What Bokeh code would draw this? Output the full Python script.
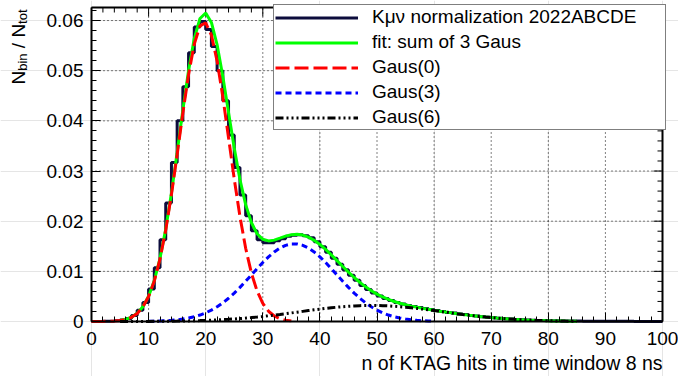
import numpy as np
from bokeh.plotting import figure
from bokeh.models import (Range1d, LinearAxis, SingleIntervalTicker, Label, Legend,
                          LegendItem)
from bokeh.embed import file_html
from bokeh.resources import INLINE

FONT = "Liberation Sans"

# ---------------- data ----------------
# histogram: fraction of events per bin, bins [n, n+1) for n = 0..99
hist_values = [0, 0.00001, 0.00003, 0.00006, 0.00014, 0.00031, 0.00062, 0.00121, 0.00224, 0.0038,
               0.0065, 0.0107, 0.0163, 0.0236, 0.0317, 0.0400, 0.0468, 0.0536, 0.0587, 0.0598,
               0.0582, 0.0548, 0.0500, 0.0440, 0.0372, 0.0307, 0.0252, 0.0211, 0.0181, 0.0163,
               0.0157, 0.0157, 0.0161, 0.0165, 0.0170, 0.0172, 0.0173, 0.0171, 0.0167, 0.0159,
               0.0149, 0.0138, 0.0126, 0.0114, 0.0103, 0.0092, 0.0082, 0.0072, 0.0064, 0.0057,
               0.0051, 0.0046, 0.0042, 0.0038, 0.0035, 0.0032, 0.0030, 0.0028, 0.0026, 0.0024,
               0.0022, 0.0020, 0.0018, 0.0017, 0.0015, 0.0014, 0.0012, 0.0011, 0.00097, 0.00086,
               0.00075, 0.00066, 0.00057, 0.00049, 0.00042, 0.00036, 0.00031, 0.00026, 0.00022, 0.00018,
               0.00015, 0.00013, 0.00011, 0.0001, 0.00009, 0.00008, 0.00007, 0.00006, 0.00005, 0.00005,
               0.00004, 0.00004, 0.00003, 0.00003, 0.00003, 0.00002, 0.00002, 0.00002, 0.00001, 0.00001]
hist_lo, hist_hi = 0, 100

# fit curve (sum of 3 Gaussians), sampled at x = 5..85
fit_x_start, fit_x_stop = 5, 85
fit_values = [0.000208, 0.000432, 0.000861, 0.001635, 0.002943, 0.005033, 0.008174, 0.012605, 0.018435, 0.025592,
              0.033714, 0.04216, 0.050043, 0.056406, 0.0604, 0.061502, 0.059623, 0.055155, 0.048865, 0.041692,
              0.034594, 0.028308, 0.023297, 0.019727, 0.017499, 0.016386, 0.016064, 0.016224, 0.016609, 0.017012,
              0.017297, 0.017381, 0.017226, 0.016822, 0.016183, 0.015353, 0.014367, 0.013274, 0.012127, 0.010968,
              0.00984, 0.008773, 0.007792, 0.006912, 0.006136, 0.005462, 0.004887, 0.004399, 0.003986, 0.003635,
              0.003333, 0.00307, 0.002835, 0.002621, 0.002424, 0.002238, 0.00206, 0.001888, 0.001725, 0.001567,
              0.001417, 0.001272, 0.001135, 0.001008, 0.00089, 0.000781, 0.00068, 0.000589, 0.000507, 0.000433,
              0.000368, 0.00031, 0.00026, 0.000217, 0.00018, 0.000148, 0.000121, 0.000098, 0.000079, 0.000064,
              0.000051]

# Gaus(0), sampled at x = 0..35
g0_x_start, g0_x_stop = 0, 35
g0_values = [0.0000021, 0.0000058, 0.000015, 0.000038, 0.000089, 0.000198, 0.000418, 0.000841, 0.001604, 0.002899,
             0.004967, 0.008078, 0.012465, 0.018232, 0.025301, 0.033301, 0.041581, 0.049241, 0.055312, 0.05893,
             0.059557, 0.057091, 0.051909, 0.044775, 0.036626, 0.028423, 0.020919, 0.014603, 0.009671, 0.006071,
             0.003618, 0.002045, 0.001096, 0.000558, 0.000269, 0.000123]

# Gaus(3), sampled at x = 10..60
g3_x_start, g3_x_stop = 10, 60
g3_values = [0.0000409, 0.0000646, 0.0001001, 0.0001524, 0.0002277, 0.0003342, 0.0004814, 0.000681, 0.000946, 0.00129,
             0.001728, 0.002272, 0.002936, 0.003722, 0.004633, 0.005664, 0.0068, 0.008014, 0.009275, 0.010538,
             0.01176, 0.012884, 0.013859, 0.01464, 0.015185, 0.015465, 0.015465, 0.015185, 0.01464, 0.013859,
             0.012884, 0.01176, 0.010538, 0.009275, 0.008014, 0.0068, 0.005664, 0.004633, 0.003722, 0.002936,
             0.002272, 0.001728, 0.00129, 0.000946, 0.000681, 0.000481, 0.000334, 0.000228, 0.000152, 0.0001,
             0.000065]

# Gaus(6), sampled at x = 5..85
g6_x_start, g6_x_stop = 5, 85
g6_values = [0.0000065, 0.0000086, 0.0000113, 0.0000148, 0.0000191, 0.0000246, 0.0000315, 0.00004, 0.0000506, 0.0000635,
             0.0000792, 0.0000981, 0.0001208, 0.0001478, 0.0001796, 0.000217, 0.0002603, 0.0003104, 0.000368, 0.000433,
             0.0005066, 0.0005888, 0.00068, 0.0007805, 0.0008896, 0.001008, 0.001135, 0.001269, 0.001411, 0.001558,
             0.001709, 0.001863, 0.002019, 0.002173, 0.002324, 0.002469, 0.002607, 0.002736, 0.002852, 0.002954,
             0.00304, 0.003109, 0.003159, 0.00319, 0.0032, 0.00319, 0.003159, 0.003109, 0.00304, 0.002954,
             0.002852, 0.002736, 0.002607, 0.002469, 0.002324, 0.002173, 0.002019, 0.001863, 0.001709, 0.001558,
             0.001411, 0.001269, 0.001135, 0.001008, 0.00089, 0.000781, 0.00068, 0.000589, 0.000507, 0.000433,
             0.000368, 0.00031, 0.00026, 0.000217, 0.00018, 0.000148, 0.000121, 0.000098, 0.000079, 0.000064,
             0.000051]

legend_labels = ["K\u03bc\u03bd normalization 2022ABCDE", "fit: sum of 3 Gaus",
                 "Gaus(0)", "Gaus(3)", "Gaus(6)"]
x_title = "n of KTAG hits in time window 8 ns"
y_title_parts = [("N", False), ("bin", True), ("\u00a0/\u00a0", False), ("N", False), ("tot", True)]

x_ticks = [0, 10, 20, 30, 40, 50, 60, 70, 80, 90, 100]
y_ticks = [0, 0.01, 0.02, 0.03, 0.04, 0.05, 0.06]
x_minor_step, y_minor_step = 2, 0.002

x_min, x_max = 0, 100
y_min, y_max = 0, 0.0626

# ---------------- layout (pixels of the 678x376 canvas) ----------------
W, H = 678, 376
F_LEFT, F_RIGHT, F_TOP, F_BOTTOM = 91, 662, 7, 321
px_x = (F_RIGHT - F_LEFT) / (x_max - x_min)
px_y = (F_BOTTOM - F_TOP) / (y_max - y_min)
MAJ, MIN = 9, 5  # tick lengths in pixels


def dx(pix_x):
    return x_min + (pix_x - F_LEFT) / px_x


def dy(pix_y):
    return y_min + (F_BOTTOM - pix_y) / px_y


# the whole canvas is the plotting area; the frame is drawn with fixed axes
p = figure(width=W, height=H, output_backend="svg", toolbar_location=None,
           x_range=Range1d(dx(0), dx(W)), y_range=Range1d(dy(H), dy(0)),
           x_axis_location=None, y_axis_location=None)
p.min_border = 0
p.min_border_left = 0
p.min_border_right = 0
p.min_border_top = 0
p.min_border_bottom = 0
p.background_fill_color = "white"
p.border_fill_color = "white"
p.outline_line_color = None

xt = SingleIntervalTicker(interval=10, num_minor_ticks=5)
yt = SingleIntervalTicker(interval=0.01, num_minor_ticks=5)


def style_axis(ax, standoff):
    ax.axis_line_color = "black"
    ax.axis_line_width = 2
    ax.major_tick_in = MAJ
    ax.major_tick_out = 0
    ax.minor_tick_in = MIN
    ax.minor_tick_out = 0
    ax.major_tick_line_color = "black"
    ax.minor_tick_line_color = "black"
    ax.major_tick_line_width = 1
    ax.minor_tick_line_width = 1
    ax.major_label_text_font = FONT
    ax.major_label_text_font_size = "19px"
    ax.major_label_text_color = "black"
    ax.major_label_standoff = standoff
    return ax


# grid (dotted) inside the frame only
p.segment(x0=x_ticks, y0=[y_min] * len(x_ticks), x1=x_ticks, y1=[y_max] * len(x_ticks),
          line_color="black", line_width=1, line_dash="1 3")
p.segment(x0=[x_min] * len(y_ticks), y0=y_ticks, x1=[x_max] * len(y_ticks), y1=y_ticks,
          line_color="black", line_width=1, line_dash="1 3")

xb = style_axis(LinearAxis(ticker=xt, fixed_location=y_min, bounds=(x_min, x_max)), 10)
yl = style_axis(LinearAxis(ticker=yt, fixed_location=x_min, bounds=(y_min, y_max)), 8)
yl.major_label_overrides = {0: "0"}
p.add_layout(xb, "below")
p.add_layout(yl, "left")

# top and right frame edges with inward ticks (no labels)
p.segment(x0=[x_min, x_max], y0=[y_max, y_min], x1=[x_max, x_max], y1=[y_max, y_max],
          line_color="black", line_width=2)
x_minor = np.arange(x_min, x_max + 1e-9, x_minor_step)
y_minor = np.arange(y_min, y_max, y_minor_step)
top_len = [(MAJ if any(abs(v - t) < 1e-9 for t in x_ticks) else MIN) / px_y for v in x_minor]
right_len = [(MAJ if any(abs(v - t) < 1e-9 for t in y_ticks) else MIN) / px_x for v in y_minor]
p.segment(x0=x_minor, y0=[y_max] * len(x_minor), x1=x_minor, y1=[y_max - l for l in top_len],
          line_color="black", line_width=1)
p.segment(x0=[x_max] * len(y_minor), y0=y_minor, x1=[x_max - l for l in right_len], y1=y_minor,
          line_color="black", line_width=1)

# ---------------- data marks ----------------
edges = np.arange(hist_lo, hist_hi + 1)
r_hist = p.step(x=edges, y=list(hist_values) + [hist_values[-1]], mode="after",
                line_color="#0c0c3c", line_width=3)

fx = np.arange(fit_x_start, fit_x_stop + 1)
r_fit = p.line(fx, fit_values, line_color="#00ff00", line_width=3)
g0x = np.arange(g0_x_start, g0_x_stop + 1)
r_g0 = p.line(g0x, g0_values, line_color="#ff0000", line_width=3, line_dash="14 5")
g3x = np.arange(g3_x_start, g3_x_stop + 1)
r_g3 = p.line(g3x, g3_values, line_color="#0000ff", line_width=3, line_dash="6 4")
g6x = np.arange(g6_x_start, g6_x_stop + 1)
r_g6 = p.line(g6x, g6_values, line_color="black", line_width=3,
              line_dash="8 3 2 3 2 3 2 3")

# ---------------- legend ----------------
LEG_LEFT, LEG_BOTTOM = 273, 130
legend = Legend(items=[LegendItem(label=lab, renderers=[r]) for lab, r in
                       zip(legend_labels, [r_hist, r_fit, r_g0, r_g3, r_g6])],
                location=(LEG_LEFT, H - LEG_BOTTOM), orientation="vertical",
                padding=1, spacing=3, margin=0,
                glyph_width=83, glyph_height=21, label_height=21, label_width=292,
                label_standoff=14,
                label_text_font=FONT, label_text_font_size="19px", label_text_color="black",
                border_line_color="black", border_line_width=1,
                background_fill_color="white", background_fill_alpha=1.0)
p.add_layout(legend)

# ---------------- axis titles ----------------
p.add_layout(Label(x=x_max, y=dy(362), text=x_title, text_align="right",
                   text_baseline="alphabetic", text_font=FONT, text_font_size="19.5px",
                   text_color="black"))

# rotated y title built from pieces (main text + subscripts)
sizes = {False: 19, True: 13}
em = {"N": 0.722, "bin": 1.334, "\u00a0/\u00a0": 0.834, "tot": 1.112}
cur = 84.0
for txt, sub in y_title_parts:
    size = sizes[sub]
    base_x = 21.5 if sub else 18.0
    p.add_layout(Label(x=dx(base_x), y=dy(cur), text=txt, angle=np.pi / 2,
                       text_align="left", text_baseline="alphabetic", text_font=FONT,
                       text_font_size=f"{size}px", text_color="black"))
    cur -= em[txt] * size

open("out.html", "w").write(file_html(p, INLINE))
